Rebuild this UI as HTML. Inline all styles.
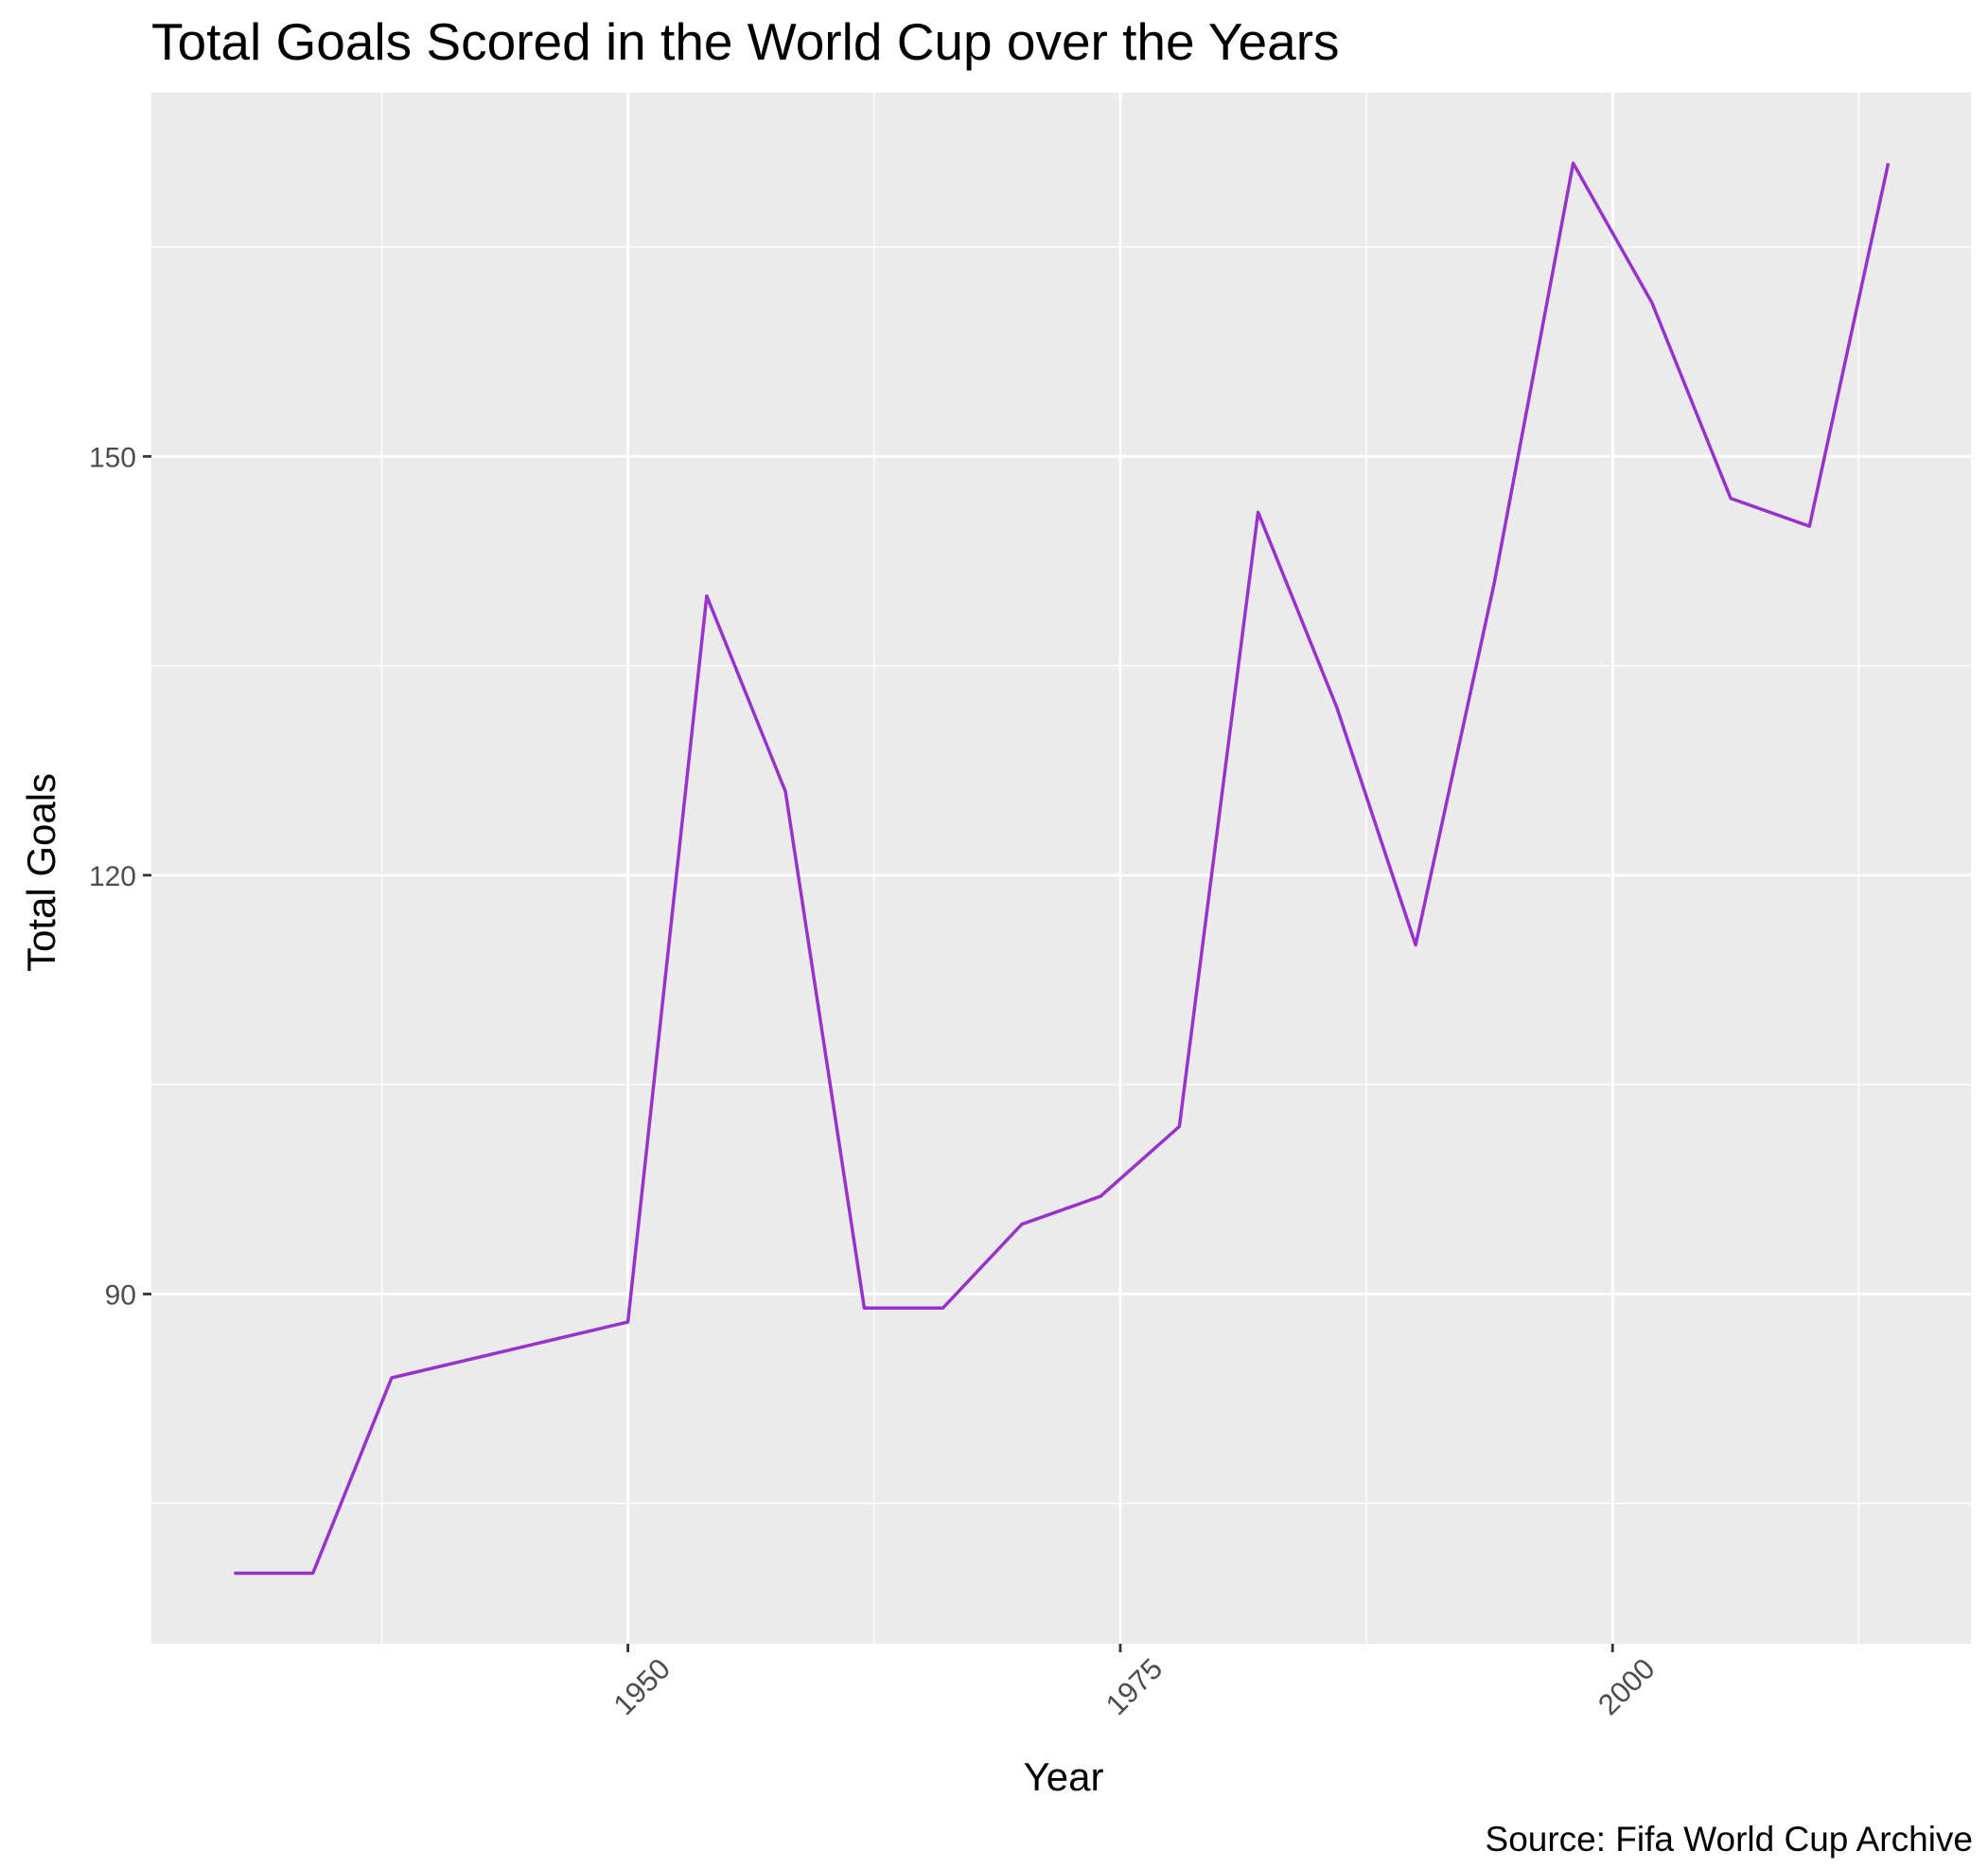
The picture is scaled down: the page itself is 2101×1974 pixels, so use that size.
<!DOCTYPE html>
<html><head><meta charset="utf-8"><style>body{margin:0;background:#fff}svg{display:block}</style></head>
<body>
<svg id="chart" width="2101" height="1974" xmlns="http://www.w3.org/2000/svg" font-family="Liberation Sans, sans-serif">
<text x="160" y="63" font-size="55" fill="#000">Total Goals Scored in the World Cup over the Years</text>
<rect x="160" y="98" width="1923" height="1639" fill="#EBEBEB"/>
<g id="grid"></g>
<g id="axes"></g>
<path id="line" fill="none" stroke="#9932CC" stroke-width="3.5" stroke-linejoin="round"/>
<text x="1124" y="1892" font-size="42" text-anchor="middle">Year</text>
<text transform="translate(58,922) rotate(-90)" font-size="42" text-anchor="middle">Total Goals</text>
<text x="2085" y="1956" font-size="37" text-anchor="end">Source: Fifa World Cup Archive</text>
</svg>
<script>
const years = [1930,1934,1938,1950,1954,1958,1962,1966,1970,1974,1978,1982,1986,1990,1994,1998,2002,2006,2010,2014];
const goals = [70,70,84,88,140,126,89,89,95,97,102,146,132,115,141,171,161,147,145,171];
const xTicks = [1950,1975,2000];
const xMinor = [1937.5,1962.5,1987.5,2012.5];
const yTicks = [90,120,150];
const yMinor = [75,105,135,165];

const L=160,R=2083,T=98,B=1737;
const xmin=Math.min(...years),xmax=Math.max(...years),xp=(xmax-xmin)*0.05;
const ymin=Math.min(...goals),ymax=Math.max(...goals),yp=(ymax-ymin)*0.05;
const x=v=>L+(v-(xmin-xp))/((xmax+xp)-(xmin-xp))*(R-L);
const y=v=>B-(v-(ymin-yp))/((ymax+yp)-(ymin-yp))*(B-T);
const NS='http://www.w3.org/2000/svg';
const grid=document.getElementById('grid'),axes=document.getElementById('axes');
function mk(tag,attrs,parent){const e=document.createElementNS(NS,tag);for(const k in attrs)e.setAttribute(k,attrs[k]);parent.appendChild(e);return e;}
yMinor.forEach(v=>{const e=mk('line',{x1:L,x2:R,y1:y(v),y2:y(v),stroke:'#fff','stroke-width':1.4},grid);

});
xMinor.forEach(v=>{const e=mk('line',{x1:x(v),x2:x(v),y1:T,y2:B,stroke:'#fff','stroke-width':1.4},grid);

});
yTicks.forEach(v=>{const e=mk('line',{x1:L,x2:R,y1:y(v),y2:y(v),stroke:'#fff','stroke-width':2.8},grid);


const t=mk('line',{x1:L-9,x2:L,y1:y(v),y2:y(v),stroke:'#333','stroke-width':2.8},axes);


const l=mk('text',{x:L-16,y:y(v)+11,'font-size':30,'text-anchor':'end',fill:'#4D4D4D'},axes);l.textContent=v;

});
xTicks.forEach(v=>{const e=mk('line',{x1:x(v),x2:x(v),y1:T,y2:B,stroke:'#fff','stroke-width':2.8},grid);


const t=mk('line',{x1:x(v),x2:x(v),y1:B,y2:B+9,stroke:'#333','stroke-width':2.8},axes);


const l=mk('text',{transform:`translate(${x(v)+30},${B+12}) rotate(-45)`,'font-size':31,'text-anchor':'end',fill:'#4D4D4D',dy:'0.75em'},axes);l.textContent=v;

});
document.getElementById('line').setAttribute('d',years.map((v,i)=>(i?'L':'M')+x(v).toFixed(1)+','+y(goals[i]).toFixed(1)).join(''));
</script>
</body></html>
